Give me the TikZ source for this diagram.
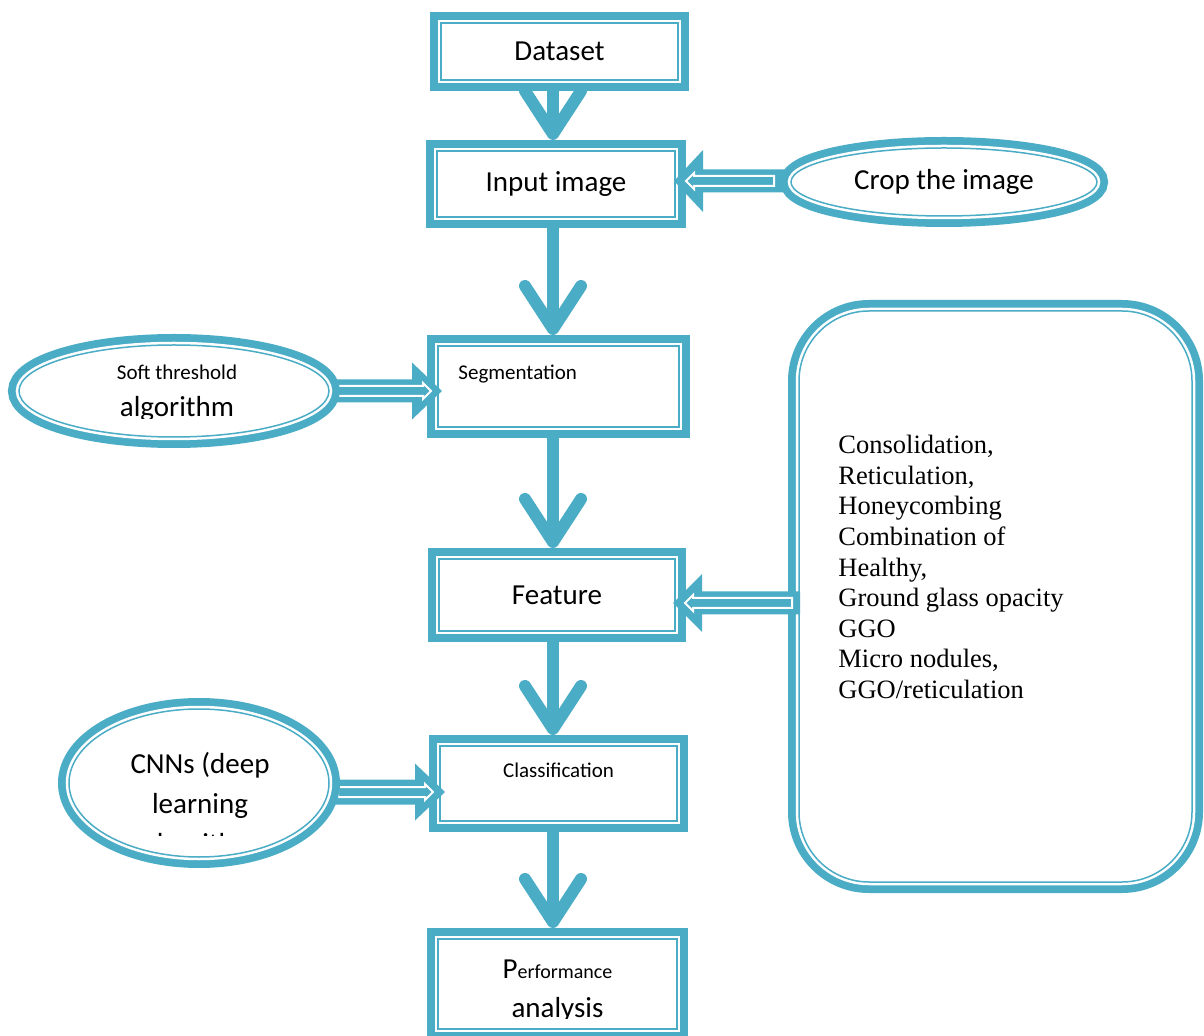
\documentclass[tikz,border=0pt]{standalone}
\usepackage{fontspec}
\setmainfont{Carlito}
\newfontfamily\tnr{Liberation Serif}
\usetikzlibrary{arrows.meta,calc,shapes.geometric}
\definecolor{acc}{HTML}{4BACC6}
\newcommand{\bigtxt}{\fontsize{14.5}{17}\selectfont}
\newcommand{\smtxt}{\fontsize{10.5}{12}\selectfont}
\tikzset{
  dblbox/.style={fill=white, draw=acc, line width=0.75pt, line join=miter,
    preaction={draw=acc, line width=11pt},
    preaction={draw=white, line width=3.25pt},
    outer sep=5.5pt, inner sep=0pt},
  blkout/.style={fill=acc, draw=none},
  blkin/.style={draw=white, line width=1pt, line join=miter},
  chev/.style={draw=acc, line width=6pt,
    -{Straight Barb[length=21.5pt, width=28pt, round]}},
  txt/.style={inner sep=0pt}
}
\begin{document}
\begin{tikzpicture}[x=0.5pt,y=-0.5pt]
\useasboundingbox (0,0) rectangle (1204,1036);
\clip (0,0) rectangle (1204,1036);

% right rounded box
\node[dblbox, rounded corners=35pt, minimum width=196.5pt, minimum height=285.5pt] (list) at (995.5,596.5) {};
\node[txt, anchor=north west, align=left, font=\tnr\fontsize{13.25}{15.3}\selectfont] (listtxt) at (838,435)
  {Consolidation,\\Reticulation,\\Honeycombing\\Combination of\\Healthy,\\Ground glass opacity\\GGO\\Micro nodules,\\GGO/reticulation};

% main boxes
\node[dblbox, minimum width=118.5pt, minimum height=28.5pt, font=\bigtxt] (ds) at (559.5,51.5) {Dataset};
\node[dblbox, minimum width=119pt, minimum height=33pt, font=\bigtxt] (inp) at (556,184) {Input image};
\node[dblbox, minimum width=120.5pt, minimum height=40.5pt] (seg) at (558.5,386.5) {};
\node[dblbox, minimum width=118pt, minimum height=36pt, font=\bigtxt] (fea) at (557,595) {Feature};
\node[dblbox, minimum width=118.5pt, minimum height=37.5pt] (cls) at (558.5,783.5) {};
\node[dblbox, minimum width=119.5pt, minimum height=45pt] (perf) at (557.5,984) {};

\node[txt, anchor=west, font=\smtxt] (segtxt) at ($(seg.north west)+(31,39)$) {Segmentation};
\node[txt, font=\smtxt] (clstxt) at ($(cls.center)+(0,-13.5)$) {Classification};
\begin{scope}
  \clip (427,928) rectangle (688,1018);
  \node[txt, anchor=base] (perf1) at (557.5,978) {{\bigtxt P}erformance};
  \node[txt, anchor=base, font=\bigtxt] (perf2) at (557.5,1017) {analysis};
\end{scope}

% chevron connectors
\coordinate (ax) at (553,0);
\draw[chev] (ax |- ds.south) -- (ax |- inp.north);
\draw[chev] (ax |- inp.south) -- (ax |- seg.north);
\draw[chev] (ax |- seg.south) -- (ax |- fea.north);
\draw[chev] (ax |- fea.south) -- (ax |- cls.north);
\draw[chev] (ax |- cls.south) -- (ax |- perf.north);

% block arrows (left-pointing)
\coordinate (t1) at ($(inp.east)+(-12,-3)$);
\fill[blkout] (t1) -- ++(29,-31) -- ++(0,19.5) -- ++(90,0) -- ++(0,23) -- ++(-90,0) -- ++(0,19.5) -- cycle;
\draw[blkin] ($(t1)+(12,0)$) -- ++(8,-8) -- ++(0,3) -- ++(80,0) -- ++(0,10) -- ++(-80,0) -- ++(0,3) -- cycle;
\coordinate (t2) at ($(fea.east)+(-13,8)$);
\fill[blkout] (t2) -- ++(29,-29) -- ++(0,17.5) -- ++(98,0) -- ++(0,23) -- ++(-98,0) -- ++(0,17.5) -- cycle;
\draw[blkin] ($(t2)+(12,0)$) -- ++(8,-8) -- ++(0,3) -- ++(99,0) -- ++(0,10) -- ++(-99,0) -- ++(0,3) -- cycle;
% block arrows (right-pointing)
\coordinate (t3) at ($(seg.west)+(15,4.5)$);
\fill[blkout] (t3) -- ++(-30,-28.5) -- ++(0,17) -- ++(-85,0) -- ++(0,23) -- ++(85,0) -- ++(0,17) -- cycle;
\draw[blkin] ($(t3)+(-11,0)$) -- ++(-8,-8) -- ++(0,3) -- ++(-85,0) -- ++(0,10) -- ++(85,0) -- ++(0,3) -- cycle;
\coordinate (t4) at ($(cls.west)+(16,8.5)$);
\fill[blkout] (t4) -- ++(-30,-28.5) -- ++(0,16) -- ++(-85,0) -- ++(0,25) -- ++(85,0) -- ++(0,16) -- cycle;
\draw[blkin] ($(t4)+(-12,0)$) -- ++(-8,-8) -- ++(0,3) -- ++(-87,0) -- ++(0,10) -- ++(87,0) -- ++(0,3) -- cycle;

% ellipses
\node[dblbox, ellipse, minimum width=153pt, minimum height=34pt, font=\bigtxt] (crop) at (944,182) {Crop the image};
\node[dblbox, ellipse, minimum width=155pt, minimum height=46pt] (soft) at (174,391) {};
\node[dblbox, ellipse, minimum width=130pt, minimum height=74pt] (cnn) at (199,783) {};

\begin{scope}
  \clip (0,330) rectangle (340,419);
  \node[txt, anchor=base, font=\smtxt] (soft1) at (177,380) {Soft threshold};
  \node[txt, anchor=base, font=\bigtxt] (soft2) at (177,417) {algorithm};
\end{scope}
\begin{scope}
  \clip (50,700) rectangle (340,835);
  \node[txt, anchor=base, font=\bigtxt] (cnn1) at (200,773) {CNNs (deep};
  \node[txt, anchor=base, font=\bigtxt] (cnn2) at (200,813) {learning};
  \node[txt, anchor=base, font=\bigtxt] (cnn3) at (200,853) {algorithm};
\end{scope}
\end{tikzpicture}
\end{document}
